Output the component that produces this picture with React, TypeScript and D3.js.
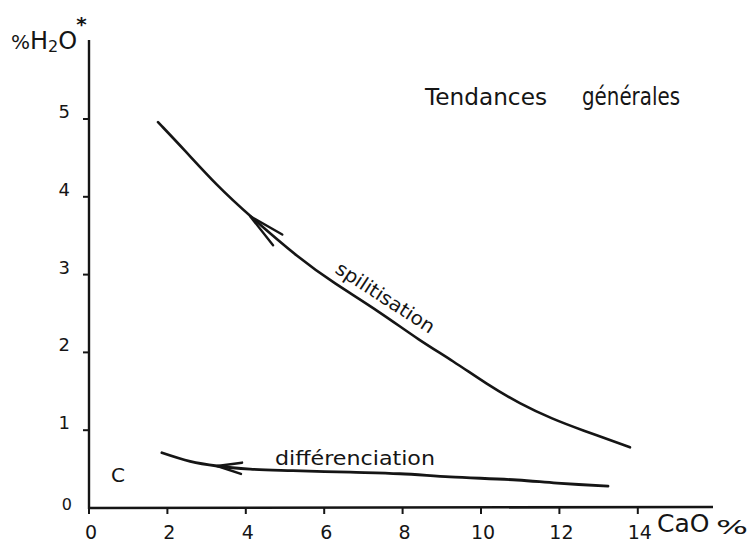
import React from "react";
import * as d3 from "d3";

// CaO % (x) vs % H2O* (y)
const spilitisationCaO = [1.76, 2.42, 3.27, 4.11, 5.38, 6.22, 7.42, 8.44, 9.29, 10.15, 10.99, 11.84, 12.53, 13.8];
const spilitisationH2O = [4.96, 4.61, 4.14, 3.75, 3.2, 2.9, 2.52, 2.15, 1.89, 1.59, 1.34, 1.14, 1.01, 0.78];

const differenciationCaO = [1.86, 2.58, 3.27, 4.11, 5.2, 6.66, 7.93, 9.21, 10.92, 11.94, 13.24];
const differenciationH2O = [0.71, 0.6, 0.54, 0.5, 0.48, 0.46, 0.44, 0.4, 0.36, 0.32, 0.28];

const xTicks = [0, 2, 4, 6, 8, 10, 12, 14];
const yTicks = [0, 1, 2, 3, 4, 5];

// index of the arrow tip along each curve
const spilitisationArrowIndex = 3;
const differenciationArrowIndex = 2;

const INK = "#151515";
const FONT = "'DejaVu Sans', 'Liberation Sans', sans-serif";

export default function App() {
  const width = 753;
  const height = 549;
  const x0 = 89;
  const y0 = 508;
  const x = d3.scaleLinear().domain([0, 14]).range([x0, x0 + 14 * 39.2]);
  const y = d3.scaleLinear().domain([0, 5]).range([y0, y0 - 5 * 77.8]);

  const lineSmooth = d3
    .line<[number, number]>()
    .x((d) => x(d[0]))
    .y((d) => y(d[1]))
    .curve(d3.curveBasis);

  const lineCR = d3
    .line<[number, number]>()
    .x((d) => x(d[0]))
    .y((d) => y(d[1]))
    .curve(d3.curveCatmullRom.alpha(0.5));

  const spil: [number, number][] = spilitisationCaO.map((v, i) => [v, spilitisationH2O[i]]);
  const diff: [number, number][] = differenciationCaO.map((v, i) => [v, differenciationH2O[i]]);

  const arrow = (pts: [number, number][], idx: number, len: number, spread: number) => {
    const tx = x(pts[idx][0]);
    const ty = y(pts[idx][1]);
    const nx = x(pts[idx + 1][0]);
    const ny = y(pts[idx + 1][1]);
    const a = Math.atan2(ny - ty, nx - tx);
    const s = (spread * Math.PI) / 180;
    const b1 = [tx + len * Math.cos(a - s), ty + len * Math.sin(a - s)];
    const b2 = [tx + len * Math.cos(a + s), ty + len * Math.sin(a + s)];
    return `M${b1[0]},${b1[1]} L${tx},${ty} L${b2[0]},${b2[1]}`;
  };

  // label position for spilitisation
  const lx = x(7.4);
  const ly = y(2.58);

  return (
    <svg
      width={width}
      height={height}
      style={{ position: "absolute", left: 0, top: 0, background: "#fff" }}
      fontFamily={FONT}
    >
      <rect width={width} height={height} fill="#fff" />
      {/* axes */}
      <line x1={x0} y1={y0 + 1} x2={x0} y2={40} stroke={INK} strokeWidth={2.4} />
      <line x1={x0 - 1} y1={y0} x2={713} y2={y0 - 1} stroke={INK} strokeWidth={2.6} />
      {yTicks.slice(1).map((t) => (
        <g key={"y" + t}>
          <line x1={x0 - 6} x2={x0} y1={y(t)} y2={y(t)} stroke={INK} strokeWidth={2} />
          <text x={70} y={y(t) - 1} textAnchor="end" fontSize={18} fill={INK}>
            {t}
          </text>
        </g>
      ))}
      <text x={72} y={y(0) + 2} textAnchor="end" fontSize={16} fill={INK}>
        0
      </text>
      {xTicks.map((t) => (
        <g key={"x" + t}>
          <line x1={x(t)} x2={x(t)} y1={y0} y2={y0 + 6} stroke={INK} strokeWidth={2} />
          <text x={x(t) + 2} y={539} textAnchor="middle" fontSize={19} fill={INK}>
            {t}
          </text>
        </g>
      ))}

      {/* axis titles */}
      <text x={11} y={49} fontSize={24} fill={INK}>
        <tspan fontSize={20}>%</tspan>
        <tspan>H</tspan>
        <tspan fontSize={16} dy={3}>2</tspan>
        <tspan dy={-3}>O</tspan>
        <tspan fontSize={20} dy={-18} dx={-1} fontWeight="bold">*</tspan>
      </text>
      <text x={657} y={532} fontSize={25} fill={INK}>
        CaO
      </text>
      <text x={716} y={534} fontSize={19} fill={INK} textLength={32} lengthAdjust="spacingAndGlyphs">
        %
      </text>

      {/* title */}
      <text x={425} y={105} fontSize={23} fill={INK} textLength={122} lengthAdjust="spacingAndGlyphs">
        Tendances
      </text>
      <text x={582} y={105} fontSize={24} fill={INK} textLength={98} lengthAdjust="spacingAndGlyphs">
        générales
      </text>

      {/* C label */}
      <text x={118} y={482} textAnchor="middle" fontSize={20} fill={INK}>
        C
      </text>

      {/* curves */}
      <path d={lineSmooth(spil) ?? ""} fill="none" stroke={INK} strokeWidth={2.6} strokeLinecap="round" />
      <path d={lineCR(diff) ?? ""} fill="none" stroke={INK} strokeWidth={2.8} strokeLinecap="round" />
      <path
        d={arrow(spil, spilitisationArrowIndex, 37, 11)}
        fill="none"
        stroke={INK}
        strokeWidth={2.4}
        strokeLinecap="round"
        strokeLinejoin="round"
      />
      <path
        d={arrow(diff, differenciationArrowIndex, 25, 13)}
        fill="none"
        stroke={INK}
        strokeWidth={2.6}
        strokeLinecap="round"
        strokeLinejoin="round"
      />

      {/* curve labels */}
      <text
        transform={`translate(${lx},${ly}) rotate(33)`}
        dy={-5}
        textAnchor="middle"
        fontSize={19}
        fill={INK}
        textLength={114}
        lengthAdjust="spacingAndGlyphs"
      >
        spilitisation
      </text>
      <text x={275} y={465} fontSize={19} fill={INK} textLength={160} lengthAdjust="spacingAndGlyphs">
        différenciation
      </text>
    </svg>
  );
}
